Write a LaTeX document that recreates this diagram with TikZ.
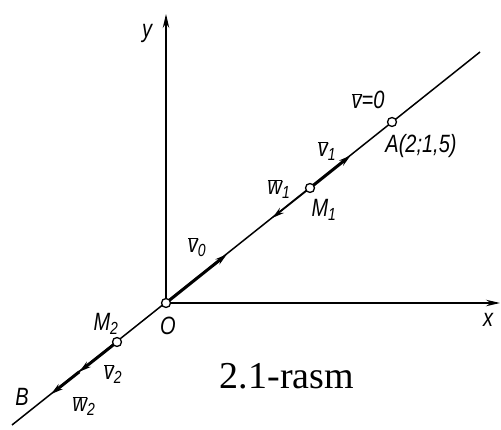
\documentclass[tikz,border=0pt]{standalone}
\usepackage{fontspec}
\setmainfont{Liberation Serif}
\newfontfamily\labfont[FakeStretch=0.8]{Liberation Sans}
\usetikzlibrary{arrows.meta,calc}
\newcommand\vbar[1]{\ensuremath{\overline{\hbox{#1}}}}
\tikzset{
  lab/.style={font=\labfont\itshape\fontsize{25}{28}\selectfont, inner sep=1pt},
  thin line/.style={line width=1.5pt},
  thick line/.style={line width=3pt},
  axis/.style={line width=1.5pt, -{Stealth[length=14pt,width=6.5pt]}},
  dot/.style={circle, draw, line width=1.3pt, fill=white, inner sep=0pt, minimum size=9pt},
  tipA/.style={-{Stealth[length=12pt,width=6.5pt]}}
}
\begin{document}
\begin{tikzpicture}[x=1pt,y=-1pt]
\useasboundingbox (0,0) rectangle (501,430);
% key points
\coordinate (O) at (166,303);
\coordinate (E1) at (480,52);
\coordinate (E2) at (12,425);
\coordinate (Ytop) at (166,14);
\coordinate (Xend) at (500,303);
\coordinate (Ac) at (392,122);
\coordinate (M1c) at (310,188);
\coordinate (M2c) at (117,342);
\coordinate (V0t) at ($(O)!78pt!(E1)$);
\coordinate (V1t) at ($(M1c)!52pt!(E1)$);
\coordinate (W1t) at ($(M1c)!48pt!(E2)$);
\coordinate (V2t) at ($(M2c)!48pt!(E2)$);
\coordinate (W2t) at ($(M2c)!84pt!(E2)$);
% axes
\draw[axis] (O) -- (Ytop);
\draw[axis] (O) -- (Xend);
% main line
\draw[thin line] (E2) -- (E1);
% vectors
\draw[thick line, tipA] (O) -- (V0t);
\draw[thick line, tipA] (M1c) -- (V1t);
\draw[thin line, tipA] (M1c) -- (W1t);
\draw[thick line, tipA] (M2c) -- (V2t);
\draw[thick line, tipA] (V2t) -- (W2t);
% points
\node[dot] (Odot) at (O) {};
\node[dot] (A) at (Ac) {};
\node[dot] (M1) at (M1c) {};
\node[dot] (M2) at (M2c) {};
% labels
\node[lab] (ylab) at (147,33) {y};
\node[lab] (xlab) at (488,320) {x};
\node[lab] (v0lab) at (368,100) {\vbar{v}=0};
\node[lab] (Alab) at (421,146) {A(2;1,5)};
\node[lab] (v1lab) at (327,151) {\vbar{v}\textsubscript{1}};
\node[lab] (w1lab) at (279,189) {\vbar{w}\textsubscript{1}};
\node[lab] (M1lab) at (324,210) {M\textsubscript{1}};
\node[lab] (vzlab) at (197,247) {\vbar{v}\textsubscript{0}};
\node[lab] (Olab) at (168,326) {O};
\node[lab] (M2lab) at (106,324) {M\textsubscript{2}};
\node[lab] (v2lab) at (113,374) {\vbar{v}\textsubscript{2}};
\node[lab] (w2lab) at (84,406) {\vbar{w}\textsubscript{2}};
\node[lab] (Blab) at (22,397) {B};
\node[font=\fontsize{38}{42}\selectfont, inner sep=0pt] (cap) at (287,376) {2.1-rasm};
\end{tikzpicture}
\end{document}
